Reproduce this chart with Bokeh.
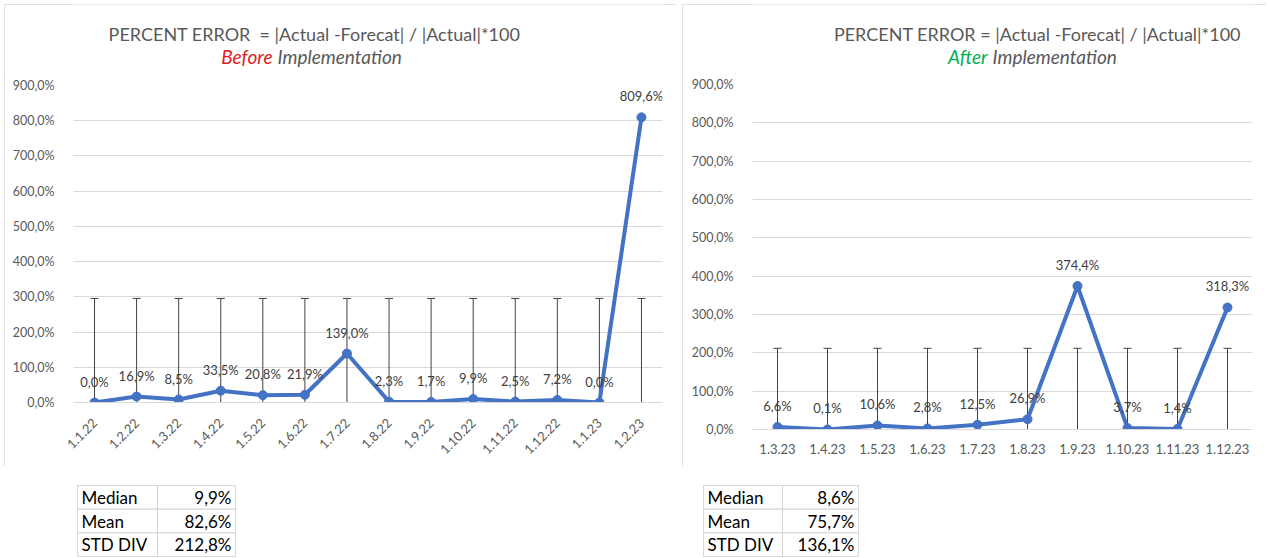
from math import pi

from bokeh.core.properties import value
from bokeh.embed import file_html
from bokeh.layouts import column, row
from bokeh.models import (ColumnDataSource, FactorRange, FixedTicker, Label,
                          Range1d, Spacer)
from bokeh.plotting import figure
from bokeh.resources import INLINE

# ---- data -----------------------------------------------------------------
before_months = ["1.1.22", "1.2.22", "1.3.22", "1.4.22", "1.5.22", "1.6.22",
                 "1.7.22", "1.8.22", "1.9.22", "1.10.22", "1.11.22",
                 "1.12.22", "1.1.23", "1.2.23"]
before_error = [0.0, 16.9, 8.5, 33.5, 20.8, 21.9, 139.0, 2.3, 1.7, 9.9, 2.5,
                7.2, 0.0, 809.6]

after_months = ["1.3.23", "1.4.23", "1.5.23", "1.6.23", "1.7.23", "1.8.23",
                "1.9.23", "1.10.23", "1.11.23", "1.12.23"]
after_error = [6.6, 0.1, 10.6, 2.8, 12.5, 26.9, 374.4, 3.7, 1.4, 318.3]

y_ticks = [0, 100, 200, 300, 400, 500, 600, 700, 800, 900]

stat_names = ["Median", "Mean", "STD DIV"]
before_stats = [9.9, 82.6, 212.8]
after_stats = [8.6, 75.7, 136.1]

TITLE = "PERCENT ERROR \u00a0= |Actual -Forecat| / |Actual|*100"
TITLE_R = "PERCENT ERROR = |Actual -Forecat| / |Actual|*100"

FONT = "Lato"
GREY = "#595959"
DARK = "#404040"
LINE = "#4472C4"
GRID = "#d9d9d9"


def pct(v):
    return f"{v:.1f}%".replace(".", ",")


def title_strip(width, title, word, word_color, title_x, split_x):
    """Two-line heading drawn above a chart (positions are measured from
    the chart frame's left edge, which the column layout aligns to)."""
    s = figure(width=width, height=70, x_range=Range1d(0, 1),
               y_range=Range1d(0, 1), output_backend="svg",
               toolbar_location=None, min_border=0, x_axis_type=None,
               y_axis_type=None, outline_line_color=None)
    s.grid.visible = False
    s.add_layout(Label(x=title_x, y=41, x_units="screen", y_units="screen",
                       text=title, text_align="center",
                       text_baseline="middle", text_font=FONT,
                       text_font_size="18px", text_color=GREY))
    s.add_layout(Label(x=split_x, y=18, x_units="screen", y_units="screen",
                       text=word, text_align="right", text_baseline="middle",
                       text_font=FONT, text_font_size="19px",
                       text_font_style="italic", text_color=word_color))
    s.add_layout(Label(x=split_x + 5, y=18, x_units="screen",
                       y_units="screen", text="Implementation",
                       text_align="left", text_baseline="middle",
                       text_font=FONT, text_font_size="19px",
                       text_font_style="italic", text_color=GREY))
    return s


def chart(months, errors, stats, width, borders, rotate):
    left, right, top, bottom = borders
    p = figure(width=width, height=392, x_range=FactorRange(*months),
               y_range=Range1d(0, 900), output_backend="svg",
               toolbar_location=None, min_border_left=left,
               min_border_right=right, min_border_top=top,
               min_border_bottom=bottom, outline_line_color=None)

    # axes
    p.yaxis.ticker = FixedTicker(ticks=y_ticks)
    p.yaxis.major_label_overrides = {t: pct(t) for t in y_ticks}
    p.yaxis.axis_line_color = None
    p.yaxis.major_tick_line_color = None
    p.yaxis.minor_tick_line_color = None
    p.yaxis.major_label_standoff = 13
    p.yaxis.major_label_text_font_size = "12.5px"
    p.xaxis.axis_line_color = GRID
    p.xaxis.major_tick_line_color = None
    p.xaxis.major_label_standoff = 12 if rotate else 8
    p.xaxis.major_label_text_font_size = "13px"
    if rotate:
        p.xaxis.major_label_orientation = pi / 4
    for ax in (p.xaxis, p.yaxis):
        ax.major_label_text_font = FONT
        ax.major_label_text_color = GREY
    p.xgrid.grid_line_color = None
    p.ygrid.grid_line_color = GRID
    p.ygrid.grid_line_width = 1

    # error bars: mean +/- standard deviation at every month
    mean, std = stats[1], stats[2]
    n = len(months)
    eb = ColumnDataSource(dict(x=months, lo=[mean - std] * n,
                               hi=[mean + std] * n))
    p.segment(x0="x", y0="lo", x1="x", y1="hi", source=eb,
              line_color=DARK, line_width=1)
    p.scatter(x="x", y="hi", source=eb, marker="dash", size=8,
              line_color=DARK, line_width=1)

    # percent error series
    src = ColumnDataSource(dict(x=months, y=errors,
                                lab=[pct(v) for v in errors]))
    p.line(x="x", y="y", source=src, line_color=LINE, line_width=4,
           line_join="round")
    p.scatter(x="x", y="y", source=src, marker="circle", size=9,
              fill_color=LINE, line_color=LINE)
    p.text(x="x", y="y", text="lab", source=src, y_offset=-21,
           text_align="center", text_baseline="middle",
           text_font=value(FONT), text_font_size="13px", text_color=DARK)
    return p


def block(strip, plot):
    return column(strip, plot,
                  styles={"outline": f"1px solid {GRID}",
                          "outline-offset": "-1px"})


def stats_table(values, width, split):
    t = figure(width=width, height=73, x_range=Range1d(0, width - 2),
               y_range=FactorRange(*reversed(stat_names)),
               output_backend="svg", toolbar_location=None, min_border=1,
               outline_line_color="#d4d4d4")
    t.axis.visible = False
    t.grid.visible = False
    w = width - 2
    src = ColumnDataSource(dict(name=stat_names,
                                val=[pct(v) for v in values]))
    t.rect(x=split / 2, y="name", width=split, height=1, source=src,
           fill_color="white", line_color="#d4d4d4")
    t.rect(x=(split + w) / 2, y="name", width=w - split, height=1,
           source=src, fill_color="white", line_color="#d4d4d4")
    t.text(x=4, y="name", text="name", source=src, text_align="left",
           text_baseline="middle", text_font=value(FONT),
           text_font_size="17px", text_color="#000000")
    t.text(x=w - 4, y="name", text="val", source=src, text_align="right",
           text_baseline="middle", text_font=value(FONT),
           text_font_size="17px", text_color="#000000")
    return t


left = block(title_strip(672, TITLE, "Before", "#e0201b", 241, 199),
             chart(before_months, before_error, before_stats, 672,
                   (69, 14, 11, 64), True))
right = block(title_strip(584, TITLE_R, "After", "#00b050", 285, 235),
              chart(after_months, after_error, after_stats, 584,
                    (70, 14, 10, 37), False))

tl = stats_table(before_stats, 160, 80)
tr = stats_table(after_stats, 157, 79)

page = column(
    Spacer(height=4),
    row(Spacer(width=4), left, Spacer(width=6), right),
    Spacer(height=18),
    row(Spacer(width=76), tl, Spacer(width=466), tr),
)

open("out.html", "w").write(file_html(page, INLINE))
